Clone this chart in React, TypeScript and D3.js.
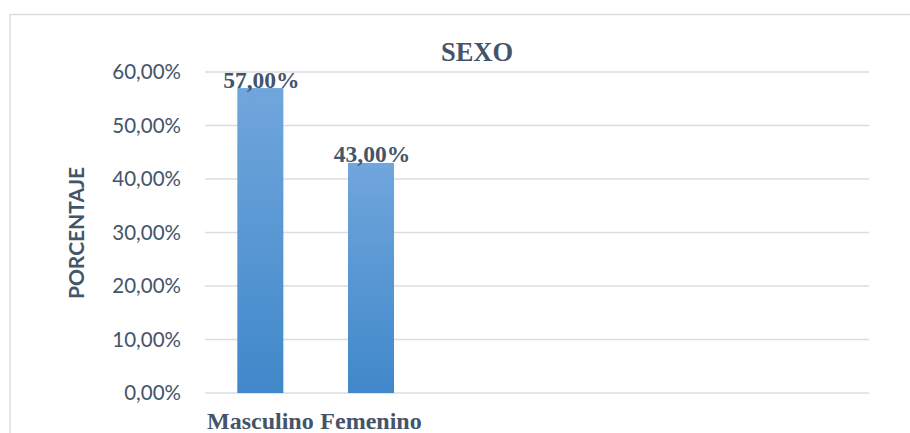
import { useEffect, useRef } from "react";
import * as d3 from "d3";

// chart data
const categories = ["Masculino", "Femenino"];
const values = [0.57, 0.43];
const slotCount = 6; // Excel axis keeps room for 6 categories
const yTicks = [0, 0.1, 0.2, 0.3, 0.4, 0.5, 0.6];
const title = "SEXO";
const yTitle = "PORCENTAJE";

const W = 910;
const H = 433;
const TEXT = "#44546a";
const GRID = "#d9dde3";

const fmt = (v: number) => (v * 100).toFixed(2).replace(".", ",") + "%";

export default function App() {
  const ref = useRef<SVGSVGElement | null>(null);

  useEffect(() => {
    if (!ref.current) return;
    const svg = d3.select(ref.current);
    svg.selectAll("*").remove();

    const plot = { left: 205, right: 869, top: 72, bottom: 393 };

    const x = d3
      .scaleBand<number>()
      .domain(d3.range(slotCount))
      .range([plot.left, plot.right])
      .paddingInner(0.584)
      .paddingOuter(0.292);
    const y = d3.scaleLinear().domain([0, 0.6]).range([plot.bottom, plot.top]);

    // gradient for bars
    const defs = svg.append("defs");
    const grad = defs
      .append("linearGradient")
      .attr("id", "barGrad")
      .attr("x1", 0)
      .attr("y1", 0)
      .attr("x2", 0)
      .attr("y2", 1);
    grad.append("stop").attr("offset", "0%").attr("stop-color", "#70a6dc");
    grad.append("stop").attr("offset", "100%").attr("stop-color", "#4088ca");

    // chart border
    svg
      .append("rect")
      .attr("x", 10)
      .attr("y", 14.5)
      .attr("width", W)
      .attr("height", H)
      .attr("fill", "none")
      .attr("stroke", GRID)
      .attr("stroke-width", 1.5);

    // gridlines
    svg
      .append("g")
      .selectAll("line")
      .data(yTicks)
      .join("line")
      .attr("x1", plot.left)
      .attr("x2", plot.right)
      .attr("y1", (d) => y(d))
      .attr("y2", (d) => y(d))
      .attr("stroke", GRID)
      .attr("stroke-width", 1.5);

    // y tick labels
    svg
      .append("g")
      .selectAll("text")
      .data(yTicks)
      .join("text")
      .attr("x", 181)
      .attr("y", (d) => y(d))
      .attr("dy", "0.36em")
      .attr("text-anchor", "end")
      .attr("font-family", "Lato, sans-serif")
      .attr("font-size", 20.5)
      .attr("fill", TEXT)
      .text((d) => fmt(d));

    // bars
    svg
      .append("g")
      .selectAll("rect")
      .data(values)
      .join("rect")
      .attr("x", (_, i) => x(i)!)
      .attr("width", x.bandwidth())
      .attr("y", (d) => y(d))
      .attr("height", (d) => y(0) - y(d))
      .attr("fill", "url(#barGrad)");

    // data labels
    svg
      .append("g")
      .selectAll("text")
      .data(values)
      .join("text")
      .attr("x", (_, i) => x(i)! + x.bandwidth() / 2 + 1)
      .attr("y", (d) => y(d) - 0.5)
      .attr("text-anchor", "middle")
      .attr("font-family", "'Liberation Serif', 'Times New Roman', serif")
      .attr("font-weight", "bold")
      .attr("font-size", 23.5)
      .attr("fill", TEXT)
      .text((d) => fmt(d));

    // category labels
    svg
      .append("g")
      .selectAll("text")
      .data(categories)
      .join("text")
      .attr("x", (_, i) => x(i)! + x.bandwidth() / 2)
      .attr("y", 429)
      .attr("text-anchor", "middle")
      .attr("font-family", "'Liberation Serif', 'Times New Roman', serif")
      .attr("font-weight", "bold")
      .attr("font-size", 24)
      .attr("fill", TEXT)
      .text((d) => d);

    // title
    svg
      .append("text")
      .attr("x", 477)
      .attr("y", 61)
      .attr("text-anchor", "middle")
      .attr("font-family", "'Liberation Serif', 'Times New Roman', serif")
      .attr("font-weight", "bold")
      .attr("font-size", 26.5)
      .attr("fill", TEXT)
      .text(title);

    // y axis title
    svg
      .append("text")
      .attr("transform", `translate(84,233) rotate(-90)`)
      .attr("text-anchor", "middle")
      .attr("font-family", "Lato, sans-serif")
      .attr("font-weight", "bold")
      .attr("font-size", 21)
      .attr("fill", TEXT)
      .text(yTitle);
  }, []);

  return (
    <svg
      ref={ref}
      width={W}
      height={H}
      style={{ position: "absolute", left: 0, top: 0, background: "#fff" }}
    />
  );
}
